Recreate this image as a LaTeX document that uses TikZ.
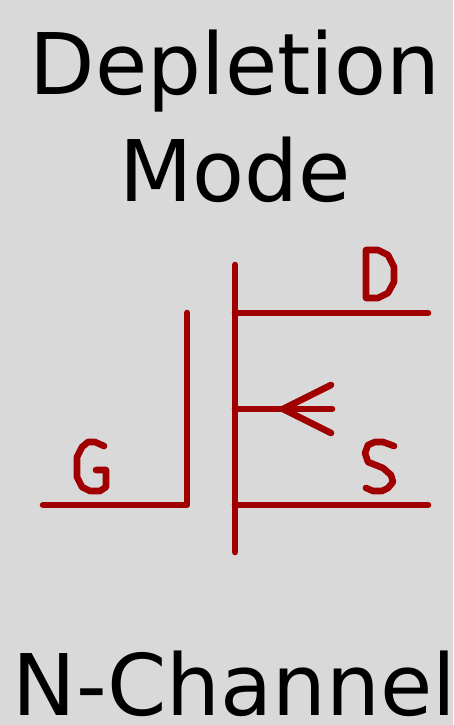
\documentclass[tikz,border=0pt]{standalone}
\usepackage{fontspec}
\setmainfont{DejaVu Sans}
\definecolor{bg}{RGB}{217,217,217}
\definecolor{wire}{RGB}{160,0,0}
\tikzset{
  px/.style={x=1pt,y=-1pt},
  wirepath/.style={draw=wire,line width=6.6pt,line cap=round,line join=round},
  lettering/.style={draw=wire,line width=6.6pt,line cap=round,line join=round},
  title/.style={inner sep=0pt,text=black,font=\fontsize{85}{85}\selectfont,anchor=base}
}
\begin{document}
\begin{tikzpicture}[px]
\path[use as bounding box,fill=bg] (0,0) rectangle (453,725);
\node[title] (t1) at (235,94) {Depletion};
\node[title] (t2) at (235,201) {Mode};
\node[title] (t3) at (234.5,715) {N-Channel};
\coordinate (gl) at (43,505);
\coordinate (gc) at (187,505);
\coordinate (gt) at (187,313);
\coordinate (ct) at (235,265);
\coordinate (cb) at (235,552);
\coordinate (dl) at (235,313);
\coordinate (dr) at (428,313);
\coordinate (sl) at (235,505);
\coordinate (sr) at (428,505);
\coordinate (ml) at (235,409);
\coordinate (mr) at (332,409);
\coordinate (tip) at (283,409);
\coordinate (au) at (331,385);
\coordinate (ad) at (331,433);
\draw[wirepath] (gl) -- (gc) -- (gt);
\draw[wirepath] (ct) -- (cb);
\draw[wirepath] (dl) -- (dr);
\draw[wirepath] (sl) -- (sr);
\draw[wirepath] (ml) -- (mr);
\draw[wirepath] (au) -- (tip) -- (ad);
% D
\draw[lettering] (366,250) -- (378,250) -- (388,255) -- (394,267) -- (394,282) -- (388,293) -- (378,298) -- (366,298) -- cycle;
% G
\draw[lettering] (104,446) -- (95,442) -- (88,442) -- (82,447) -- (77,457) -- (77,477) -- (82,487) -- (90,491) -- (100,491) -- (106,487) -- (106,470) -- (96,470);
% S
\draw[lettering] (394,446) -- (383,442) -- (375,442) -- (368,445) -- (365,453) -- (368,462) -- (383,468) -- (391,475) -- (393,482) -- (388,488) -- (382,491) -- (373,491) -- (366,488);
\end{tikzpicture}
\end{document}
